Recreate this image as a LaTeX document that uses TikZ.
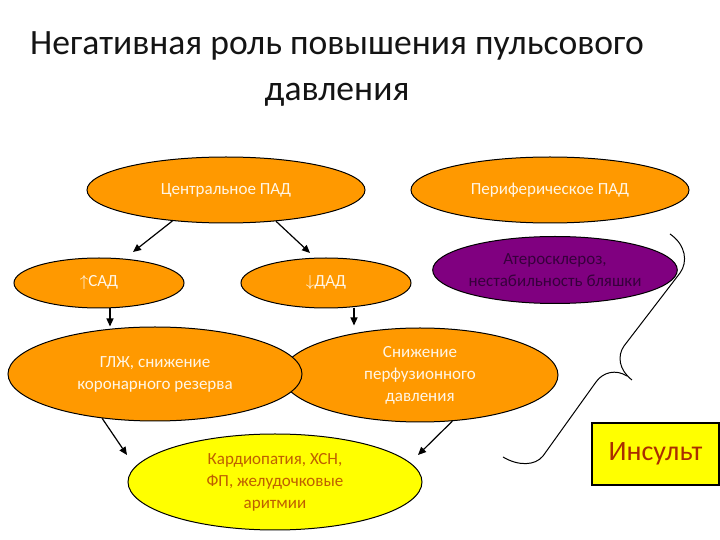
\documentclass[tikz,border=0pt]{standalone}
\usepackage{fontspec}
\setmainfont{Carlito}
\usetikzlibrary{shapes.geometric,arrows.meta}
\definecolor{orng}{RGB}{255,153,0}
\definecolor{purp}{RGB}{128,0,128}
\definecolor{yel}{RGB}{255,255,0}
\definecolor{purptext}{RGB}{55,0,60}
\definecolor{kardtext}{RGB}{190,95,0}
\definecolor{instext}{RGB}{170,45,0}
\definecolor{cream}{RGB}{255,246,230}
\definecolor{titletext}{RGB}{20,20,20}
\tikzset{
  ell/.style={ellipse, draw=black, line width=0.5pt, inner sep=0pt, align=center,
     font=\fontsize{8.5}{11}\selectfont},
  orell/.style={ell, fill=orng, text=cream},
  arr/.style={draw=black, line width=0.6pt, -{Triangle[length=4pt,width=3.5pt]}},
  brace/.style={draw=black, line width=0.5pt},
  titlefont/.style={font=\fontsize{17.8}{22}\selectfont, text=titletext},
}
\begin{document}
\begin{tikzpicture}[x=0.5pt,y=-0.5pt]
\useasboundingbox (0,0) rectangle (720,540);
% title
\node[titlefont] (title1) at (337,46) {Негативная роль повышения пульсового};
\node[titlefont] (title2) at (337,95) {давления};
% top row
\node[orell, minimum width=139pt, minimum height=33pt] (central) at (226,190) {Центральное ПАД};
\node[orell, minimum width=139pt, minimum height=33pt] (periph) at (550,190) {Периферическое ПАД};
% second row
\node[orell, minimum width=85pt, minimum height=25pt] (sad) at (99,283) {$\uparrow$САД};
\node[orell, minimum width=85pt, minimum height=25pt] (dad) at (326,283) {$\downarrow$ДАД};
\node[ell, fill=purp, text=purptext, minimum width=117pt, minimum height=33.5pt] (ather) at (555,270) {Атеросклероз,\\нестабильность бляшки};
% third row
\node[orell, minimum width=138pt, minimum height=47pt] (snizh) at (420,375) {Снижение\\перфузионного\\давления};
\node[orell, minimum width=147pt, minimum height=47pt] (glzh) at (155,374) {ГЛЖ, снижение\\коронарного резерва};
% bottom
\node[ell, fill=yel, text=kardtext, minimum width=147pt, minimum height=48pt] (kard) at (275,482) {Кардиопатия, ХСН,\\ФП, желудочковые\\аритмии};
\node[draw=black, line width=0.6pt, fill=yel, text=instext, minimum width=63.5pt, minimum height=31pt, inner sep=0pt,
  font=\fontsize{14}{16}\selectfont] (insult) at (655.5,454) {Инсульт};
% arrow tips
\coordinate (t1) at (133,252);
\coordinate (t2) at (310,253);
\coordinate (t5) at (127,455);
\coordinate (t6) at (418,455);
\path (sad.south) ++(11,0) coordinate (s3);
\path (dad.south) ++(28,0) coordinate (s4);
\draw[arr] (central.210) -- (t1);
\draw[arr] (central.328) -- (t2);
\draw[arr] (s3) -- (s3 |- glzh.north);
\draw[arr] (s4) -- ([yshift=1pt]s4 |- snizh.north);
\draw[arr] (glzh.220) -- (t5);
\draw[arr] (snizh.-55) -- (t6);
% brace
\draw[brace] (670,234) .. controls (686,245) and (688,262) .. (680,273)
  -- (624,346) .. controls (617,356) and (619,370) .. (632,380);
\draw[brace] (627,376) .. controls (616,369) and (603,372) .. (596,382)
  -- (543,456) .. controls (535,466) and (518,466) .. (503,457);
\end{tikzpicture}
\end{document}
